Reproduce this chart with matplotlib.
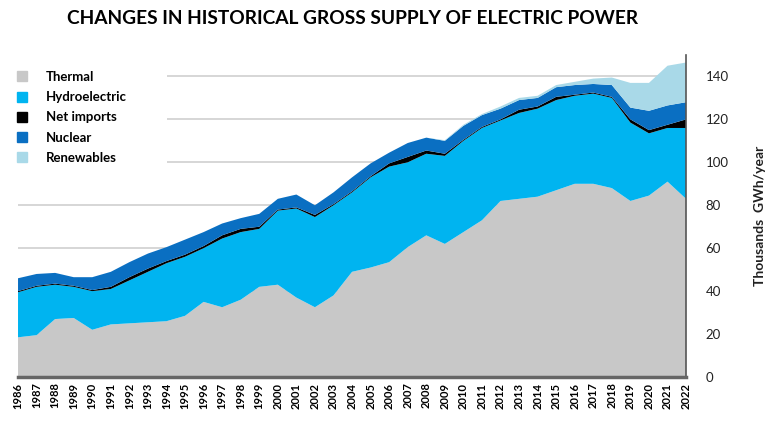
import numpy as np
import matplotlib
matplotlib.use("Agg")
import matplotlib.pyplot as plt
from matplotlib.lines import Line2D
from matplotlib.patches import Rectangle

# values (thousands GWh/year)
years = list(range(1986, 2023))

thermal = [18.5, 19.5, 27, 27.5, 22, 24.5, 25, 25.5, 26, 28.5,
           35, 32.5, 36, 42, 43, 37, 32.5, 38, 49, 51,
           53.5, 60.5, 66, 62, 67.5, 73, 82, 83, 84, 87,
           90, 90, 88, 82, 84.5, 91, 83]

hydro = [21, 22.5, 16, 14.5, 18, 16.5, 20, 23.5, 27, 27.5,
         25, 32, 31.5, 27, 34.5, 41.5, 42, 42, 37, 42,
         44.5, 39.5, 38, 41, 42.5, 43, 37.5, 40, 41, 42,
         41, 42, 42, 36.5, 29, 25, 33]

net_imports = [0.5, 0.5, 0.5, 0.5, 0.5, 1, 1.5, 1.5, 1, 1,
               1, 1.5, 1.5, 1, 0.5, 0.5, 1, 0.5, 0.5, 0.5,
               1.5, 2.5, 1.5, 1, 0.5, 0.5, 0.5, 1.5, 1, 1.5,
               0.5, 0.5, 0.5, 1.5, 1.5, 1.5, 4]

nuclear = [6, 5.5, 5, 4, 6, 7, 7, 7, 6.5, 7,
           6.5, 5.5, 5, 6, 5, 6, 4.5, 5.5, 6.5, 6,
           5, 6.5, 6, 6, 6.5, 5.5, 5, 4.5, 4, 4.5,
           4.5, 4, 5.5, 5.5, 9, 9, 8]

renewables = [0, 0, 0, 0, 0, 0, 0, 0, 0, 0,
              0, 0, 0, 0, 0, 0, 0, 0, 0, 0,
              0, 0, 0, 0.3, 0.5, 0.5, 1, 1, 1, 1,
              1.5, 2.5, 3.5, 11.5, 13, 18.5, 18.5]

labels = ["Thermal", "Hydroelectric", "Net imports", "Nuclear", "Renewables"]
colors = ["#c8c8c8", "#00b4f0", "#000000", "#0a6fc2", "#a9d9e8"]

plt.rcParams['font.family'] = ['Lato', 'DejaVu Sans']

fig = plt.figure(figsize=(7.7, 4.22), dpi=100)
ax = fig.add_axes([0.0234, 0.1066, 0.8676, 0.7631])

ax.stackplot(years, thermal, hydro, net_imports, nuclear, renewables,
             colors=colors, linewidth=0, zorder=2)

ax.set_xlim(1986, 2022)
ax.set_ylim(0, 150)
ax.set_yticks(range(0, 141, 20))
ax.set_xticks(years)
ax.set_xticklabels([str(y) for y in years], rotation=90, fontsize=8,
                   fontweight='bold')
ax.grid(axis='y', color='#d0d0d0', linewidth=1.2, zorder=0)
ax.set_axisbelow(True)

# white backdrop behind the legend hides the upper gridlines there
ax.add_patch(Rectangle((-0.03, 0.6), 0.253, 0.4, transform=ax.transAxes,
                       facecolor='white', edgecolor='none', zorder=1,
                       clip_on=False))

ax.yaxis.tick_right()
ax.yaxis.set_label_position('right')
ax.tick_params(axis='y', length=0, pad=14, labelsize=9.5, labelcolor='#222222')
ax.tick_params(axis='x', length=0, pad=4)
for lab in ax.get_yticklabels():
    lab.set_horizontalalignment('left')
ax.set_ylabel("Thousands  GWh/year", fontsize=10, fontweight='bold',
              labelpad=18, color='#222222')

for s in ['left', 'top']:
    ax.spines[s].set_visible(False)
ax.spines['right'].set_color('#555555')
ax.spines['right'].set_linewidth(1.2)
ax.spines['bottom'].set_color('#666666')
ax.spines['bottom'].set_linewidth(2.5)

handles = [Line2D([0], [0], marker='s', linestyle='none', markersize=7,
                  markerfacecolor=c, markeredgecolor=c) for c in colors]
leg = ax.legend(handles, labels, loc='upper left', bbox_to_anchor=(-0.026, 0.995),
                frameon=True, fancybox=False, edgecolor='none', framealpha=1,
                handlelength=1.0, handletextpad=1.3, labelspacing=0.62,
                borderpad=0.6, prop={'size': 9.5, 'weight': 'bold'})

fig.text(0.458, 0.955, "CHANGES IN HISTORICAL GROSS SUPPLY OF ELECTRIC POWER",
         ha='center', va='center', fontsize=13.8, fontweight='bold')

fig.savefig("out.png", dpi=100)
